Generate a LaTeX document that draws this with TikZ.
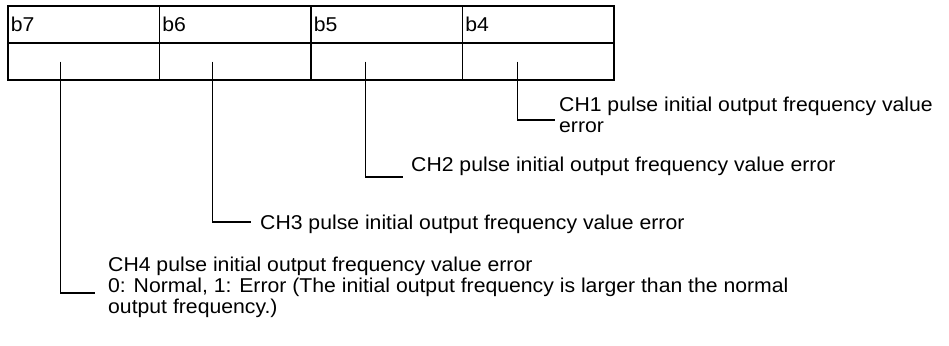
\documentclass[tikz,border=0pt]{standalone}
\usepackage{fontspec}
\setmainfont{Liberation Sans}[FakeStretch=1.06]
\usepackage{tikz}
\usetikzlibrary{arrows,positioning}
\tikzstyle{bitcell} = [rectangle, draw, line width=1.2pt, text width=146pt, align=left,
    inner xsep=1.5pt, minimum width=151.5pt, minimum height=37pt, node distance=151.5pt,
    font=\fontsize{20}{21}\selectfont]
\tikzstyle{valuecell} = [bitcell, node distance=37pt]
\tikzstyle{line} = [draw, line width=1.2pt]
\tikzstyle{errtext} = [anchor=base west, inner sep=0pt, align=left,
    font=\fontsize{20}{21}\selectfont]

\begin{document}
\begin{tikzpicture}[x=1pt, y=-1pt]
    \useasboundingbox (0,0) rectangle (949,345);
    % Place nodes
    \node [bitcell] at (83.75,24.5)          (bitHead7) {b7};
    \node [bitcell, right of=bitHead7]       (bitHead6) {b6};
    \node [bitcell, right of=bitHead6]       (bitHead5) {b5};
    \node [bitcell, right of=bitHead5]       (bitHead4) {b4};

    \node [valuecell, below of=bitHead7] (bitValue7) {};
    \node [valuecell, below of=bitHead6] (bitValue6) {};
    \node [valuecell, below of=bitHead5] (bitValue5) {};
    \node [valuecell, below of=bitHead4] (bitValue4) {};

    % multi-line texts: base is the last line
    \node [errtext] at (559,132) (errCH1) {CH1 pulse initial output frequency value\\error};
    \node [errtext] at (411,171) (errCH2) {CH2 pulse initial output frequency value error};
    \node [errtext] at (260,229) (errCH3) {CH3 pulse initial output frequency value error};
    \node [errtext] at (108,313) (errCH4) {CH4 pulse initial output frequency value error\\
        0: Normal, 1: Error (The initial output frequency is larger than the normal\\
        output frequency.)};

    \coordinate (leadEnd1) at (555,120);
    \coordinate (leadEnd2) at (403,177);
    \coordinate (leadEnd3) at (251,222);
    \coordinate (leadEnd4) at (95,293);

    \path [line] ([xshift=-21pt]bitValue4.center) |- (leadEnd1);
    \path [line] ([xshift=-21pt]bitValue5.center) |- (leadEnd2);
    \path [line] ([xshift=-23pt]bitValue6.center) |- (leadEnd3);
    \path [line] ([xshift=-23pt]bitValue7.center) |- (leadEnd4);
\end{tikzpicture}
\end{document}
